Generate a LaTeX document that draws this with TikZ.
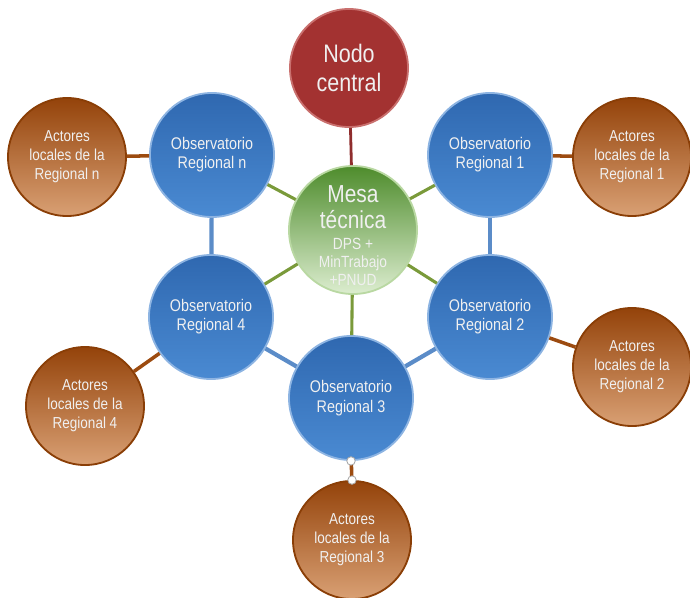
\documentclass[tikz,border=0pt]{standalone}
\usepackage{fontspec}
\setmainfont{Liberation Sans}[FakeStretch=0.85]
\usepackage{xcolor}
\usepackage{tikz}
\usetikzlibrary{positioning}

\definecolor{obstop}{HTML}{2F68B0}
\definecolor{obsbot}{HTML}{4A8AD2}
\definecolor{obsrim}{HTML}{8DB4E2}
\definecolor{acttop}{HTML}{94430A}
\definecolor{actbot}{HTML}{D9A074}
\definecolor{actrim}{HTML}{8A3E06}
\definecolor{mesatop}{HTML}{4E8C2C}
\definecolor{mesamid}{HTML}{87B96A}
\definecolor{mesabot}{HTML}{DCEDCF}
\definecolor{mesarim}{HTML}{B9D8A2}
\definecolor{nodored}{HTML}{A33231}
\definecolor{noderim}{HTML}{C9706E}
\definecolor{bluelink}{HTML}{5B8CC8}
\definecolor{greenlink}{HTML}{7A9A3A}
\definecolor{brownlink}{HTML}{9C4B10}
\definecolor{redlink}{HTML}{8F2D2D}

\begin{document}
\begin{tikzpicture}
        [x=0.025cm, y=-0.025cm,
         ball/.style={circle, inner sep=0pt, align=center, text=white!94!black, line width=1.3pt},
         obs/.style={ball, minimum size=3.1cm, top color=obstop, bottom color=obsbot, draw=obsrim,
                     font=\fontsize{12}{13.7}\selectfont},
         actor/.style={ball, minimum size=2.95cm, top color=acttop, bottom color=actbot, draw=actrim,
                       font=\fontsize{11.3}{13.5}\selectfont},
         mesa/.style={ball, minimum size=3.2cm, top color=mesatop, middle color=mesamid,
                      bottom color=mesabot, draw=mesarim},
         mesatext/.style={align=center, inner sep=0pt, text=white!94!black,
                          font=\fontsize{17.5}{18}\selectfont},
         central/.style={ball, minimum size=2.95cm, fill=nodored, draw=noderim,
                         font=\fontsize{18}{21}\selectfont},
         bluewire/.style={draw=bluelink, line width=3pt},
         greenwire/.style={draw=greenlink, line width=2.2pt},
         brownwire/.style={draw=brownlink, line width=2.5pt},
         redwire/.style={draw=redlink, line width=2pt},
         handle/.style={circle, inner sep=0pt, minimum size=6pt, fill=white, draw=gray!70, line width=0.6pt}]
      \useasboundingbox (0,0) rectangle (690,598);

      \node[central] (nodo) at (349,68)  {Nodo\\central};
      \node[mesa]    (mesa) at (353,230) {};
      \node[mesatext] (mesalbl) at (353,236) {Mesa\\técnica\\[-3pt]
                     {\fontsize{11.5}{10}\selectfont DPS +}\\[-5pt]
                     {\fontsize{11.5}{10}\selectfont MinTrabajo}\\[-5pt]
                     {\fontsize{11.5}{10}\selectfont +PNUD}};

      \node[obs] (obsn) at (212,155) {Observatorio\\Regional n};
      \node[obs] (obs1) at (490,155) {Observatorio\\Regional 1};
      \node[obs] (obs2) at (490,317) {Observatorio\\Regional 2};
      \node[obs] (obs3) at (351,398) {Observatorio\\Regional 3};
      \node[obs] (obs4) at (211,317) {Observatorio\\Regional 4};

      \node[actor] (actn) at (67,157)  {Actores\\locales de la\\Regional n};
      \node[actor] (act1) at (632,157) {Actores\\locales de la\\Regional 1};
      \node[actor] (act2) at (632,367) {Actores\\locales de la\\Regional 2};
      \node[actor] (act3) at (352,540) {Actores\\locales de la\\Regional 3};
      \node[actor] (act4) at (85,406)  {Actores\\locales de la\\Regional 4};

      % mesa tecnica to the centre and the observatories
      \path [redwire] (mesa) edge (nodo);
      \foreach \o in {obsn,obs1,obs2,obs3,obs4}
        \path [greenwire] (mesa) edge (\o);

      % ring of observatories
      \path [bluewire] (obsn) edge (obs4);
      \path [bluewire] (obs1) edge (obs2);
      \path [bluewire] (obs2) edge (obs3);
      \path [bluewire] (obs4) edge (obs3);

      % local actors
      \path [brownwire] (obsn) edge (actn);
      \path [brownwire] (obs1) edge (act1);
      \path [brownwire] (obs2) edge (act2);
      \path [brownwire] (obs4) edge (act4);
      \path [brownwire] (obs3) edge (act3);
      \node[handle] (h1) at (obs3.south) {};
      \node[handle] (h2) at (act3.north) {};
      \end{tikzpicture}
\end{document}
